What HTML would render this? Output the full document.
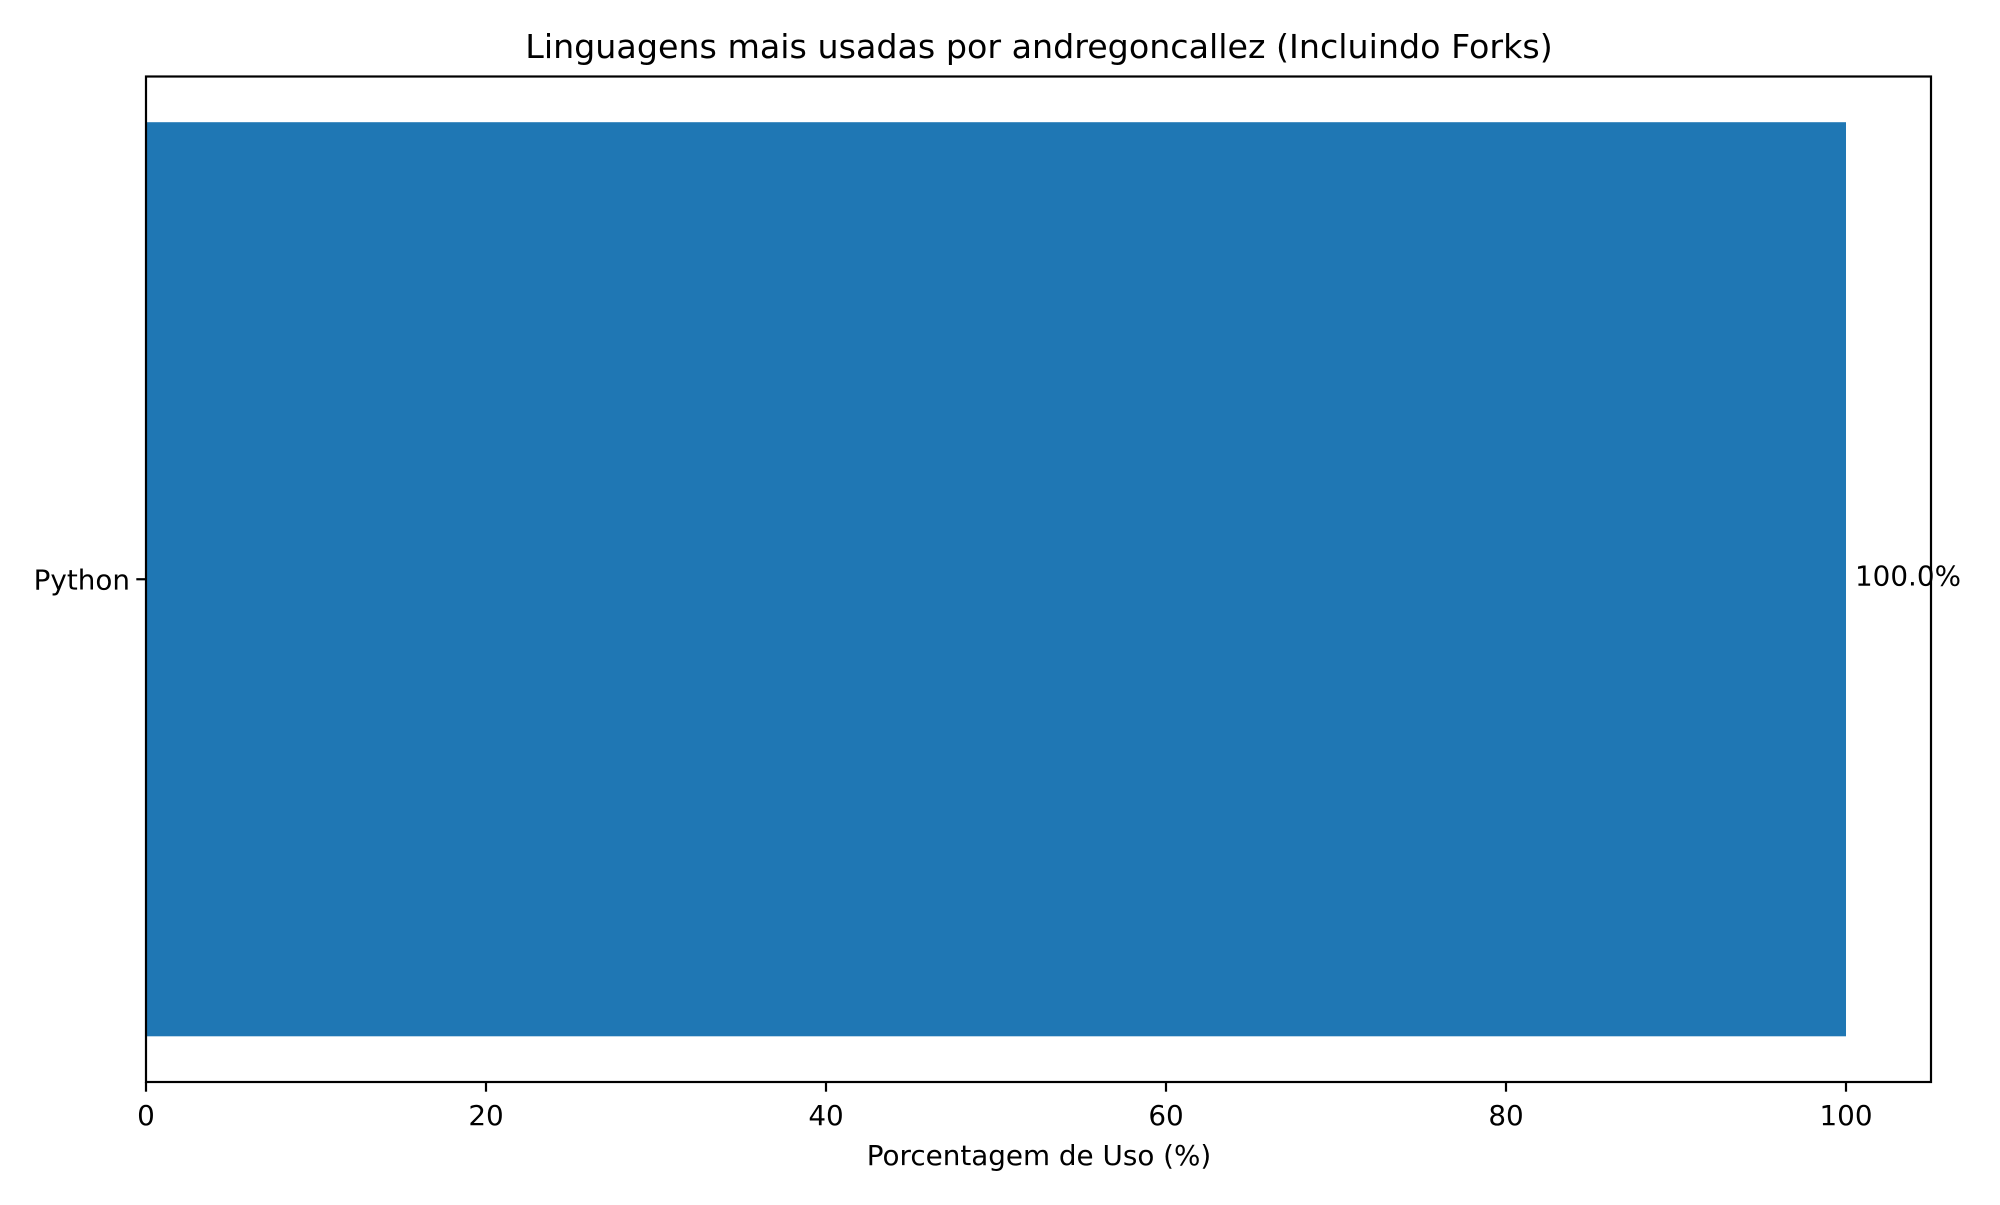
<!DOCTYPE html>
<html><head><meta charset="utf-8"><style>
body{margin:0;background:#fff}
svg text{font-family:"DejaVu Sans","Liberation Sans",sans-serif;fill:#000}
</style></head><body>
<svg width="2000" height="1200" viewBox="0 0 2000 1200">
<rect width="2000" height="1200" fill="#fff"/>
<text x="1039" y="58" font-size="33.3" text-anchor="middle">Linguagens mais usadas por andregoncallez (Incluindo Forks)</text>
<g id="plot"></g>
<text x="1039" y="1165" font-size="27.8" text-anchor="middle">Porcentagem de Uso (%)</text>
</svg>
<script>
const categories = ["Python"];
const values = [100.0];
const xTicks = [0, 20, 40, 60, 80, 100];

const L = 146, R = 1931, T = 76.5, B = 1082;
const xMin = 0, xMax = 105;
const n = categories.length;
const yMin = -0.44, yMax = n - 1 + 0.44;
const xs = v => L + (v - xMin) / (xMax - xMin) * (R - L);
const ys = v => B - (v - yMin) / (yMax - yMin) * (B - T);
const NS = "http://www.w3.org/2000/svg";
const g = document.getElementById('plot');
function mk(tag, attrs){const e=document.createElementNS(NS,tag);for(const k in attrs)e.setAttribute(k,attrs[k]);g.appendChild(e);return e;}

categories.forEach((c,i)=>{
  const y0 = ys(i+0.4), y1 = ys(i-0.4);
  const bar = mk('rect',{x:xs(0),y:y0,width:xs(values[i])-xs(0),height:y1-y0,fill:'#1f77b4'});
  
  
  const lbl = mk('text',{x:xs(values[i])+9,y:ys(i)+6,'font-size':27.8});
  lbl.textContent = values[i].toFixed(1) + '%';
  
  
  const tk = mk('line',{x1:L-9.7,x2:L,y1:ys(i),y2:ys(i),stroke:'#000','stroke-width':2.2});
  
  
  const tl = mk('text',{x:L-16,y:ys(i)+10,'font-size':27.8,'text-anchor':'end'});
  tl.textContent = c;
  
  
});

const frame = mk('rect',{x:L,y:T,width:R-L,height:B-T,fill:'none',stroke:'#000','stroke-width':2.2});



xTicks.forEach(t=>{
  const tk = mk('line',{x1:xs(t),x2:xs(t),y1:B,y2:B+9.7,stroke:'#000','stroke-width':2.2});
  
  
  const tl = mk('text',{x:xs(t),y:B+43,'font-size':27.8,'text-anchor':'middle'});
  tl.textContent = t;
  
  
});
</script>
</body></html>
